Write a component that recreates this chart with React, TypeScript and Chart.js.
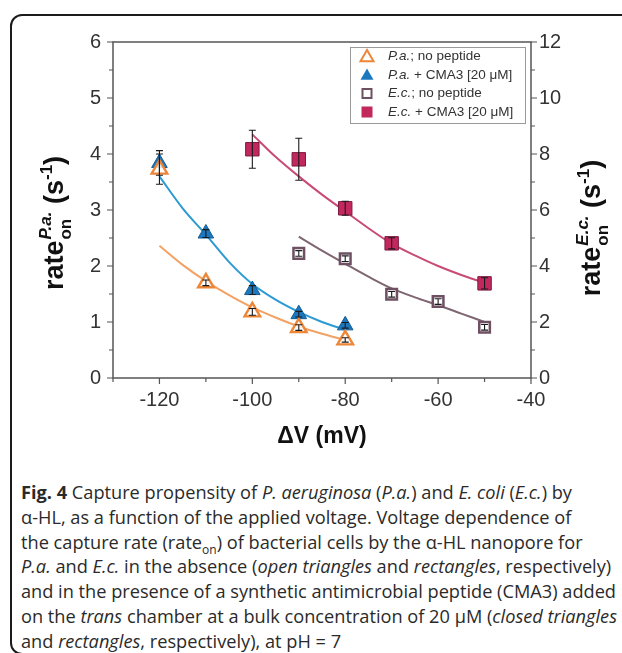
import { useEffect, useRef } from 'react';
import { Chart, registerables } from 'chart.js';

Chart.register(...registerables);

// ---------- data ----------
const voltagePa = [-120, -110, -100, -90, -80];
const paNoPeptide = [3.73, 1.7, 1.18, 0.9, 0.68];
const paNoPeptideErr = [0.27, 0.05, 0.06, 0.05, 0.04];
const paCMA3 = [3.84, 2.58, 1.57, 1.14, 0.94];
const paCMA3Err = [0.22, 0.07, 0.08, 0.05, 0.05];

const voltageEcNo = [-90, -80, -70, -60, -50];
const ecNoPeptide = [4.45, 4.26, 2.99, 2.73, 1.81];
const ecNoPeptideErr = [0.1, 0.1, 0.1, 0.1, 0.1];
const voltageEcCMA3 = [-100, -90, -80, -70, -50];
const ecCMA3 = [8.17, 7.81, 6.06, 4.81, 3.38];
const ecCMA3Err = [0.68, 0.75, 0.25, 0.2, 0.2];

// fitted curves
const fitVoltagePa = [-120, -115, -110, -105, -100, -95, -90, -85, -80];
const paNoPeptideFit = [2.36, 2.02, 1.73, 1.48, 1.26, 1.08, 0.92, 0.79, 0.68];
const paCMA3Fit = [3.6, 3.03, 2.56, 2.07, 1.68, 1.4, 1.18, 1.0, 0.86];
const fitVoltageEcNo = [-90, -85, -80, -75, -70, -65, -60, -55, -50];
const ecNoPeptideFit = [5.05, 4.55, 4.08, 3.62, 3.2, 2.88, 2.6, 2.3, 2.0];
const fitVoltageEcCMA3 = [-100, -95, -90, -85, -80, -75, -70, -65, -60, -55, -50];
const ecCMA3Fit = [8.7, 7.9, 7.2, 6.55, 5.95, 5.35, 4.8, 4.38, 4.0, 3.68, 3.4];

const xTickValues = [-120, -100, -80, -60, -40];
const xMinorTicks = [-130, -110, -90, -70, -50];
const yLeftTicks = [0, 1, 2, 3, 4, 5, 6];
const yLeftMinor = [0.5, 1.5, 2.5, 3.5, 4.5, 5.5];
const yRightTicks = [0, 2, 4, 6, 8, 10, 12];
const yRightMinor = [1, 3, 5, 7, 9, 11];

const legendLabels = [
  ['P.a.', '; no peptide'],
  ['P.a.', ' + CMA3 [20 \u03bcM]'],
  ['E.c.', '; no peptide'],
  ['E.c.', ' + CMA3 [20 \u03bcM]'],
];

// ---------- styles ----------
const ORANGE = '#EE8637';
const ORANGE_LINE = '#F3A265';
const BLUE = '#1B78BF';
const BLUE_LINE = '#2C9AD3';
const RED = '#C2275E';
const RED_LINE = '#C84B76';
const BROWN = '#6E5062';
const BROWN_LINE = '#7E6672';
const AXIS = '#555';
const FONT = "'Liberation Sans', Arial, Helvetica, sans-serif";

const pts = (xs: number[], ys: number[]) => xs.map((x, i) => ({ x, y: ys[i] }));

function drawTriangle(ctx: CanvasRenderingContext2D, x: number, y: number, r: number) {
  ctx.beginPath();
  ctx.moveTo(x, y - r);
  ctx.lineTo(x + r * 0.866, y + r * 0.5);
  ctx.lineTo(x - r * 0.866, y + r * 0.5);
  ctx.closePath();
}

function drawTitle(
  ctx: CanvasRenderingContext2D,
  cx: number,
  cy: number,
  sup: string,
  main: number,
  small: number
) {
  ctx.save();
  ctx.translate(cx, cy);
  ctx.rotate(-Math.PI / 2);
  ctx.fillStyle = '#111';
  ctx.textBaseline = 'alphabetic';
  ctx.textAlign = 'left';
  const fMain = `bold ${main}px ${FONT}`;
  const fSmall = `bold ${small}px ${FONT}`;
  const fSmallIt = `italic bold ${small}px ${FONT}`;
  ctx.font = fMain;
  const w1 = ctx.measureText('rate').width;
  const w2 = ctx.measureText(' (s').width;
  const w3 = ctx.measureText(')').width;
  ctx.font = fSmall;
  const wSub = ctx.measureText('on').width;
  const wExp = ctx.measureText('-1').width;
  ctx.font = fSmallIt;
  const wSup = ctx.measureText(sup).width;
  const wMid = Math.max(wSub, wSup) + 1;
  const total = w1 + wMid + w2 + wExp + w3;
  let x = -total / 2;
  ctx.font = fMain;
  ctx.fillText('rate', x, 0);
  x += w1;
  ctx.font = fSmall;
  ctx.fillText('on', x + 1, main * 0.28);
  ctx.font = fSmallIt;
  ctx.fillText(sup, x + 1, -main * 0.45);
  x += wMid;
  ctx.font = fMain;
  ctx.fillText(' (s', x, 0);
  x += w2;
  ctx.font = fSmall;
  ctx.fillText('-1', x, -main * 0.42);
  x += wExp;
  ctx.font = fMain;
  ctx.fillText(')', x, 0);
  ctx.restore();
}

const errorSets: { ds: number; err: number[] }[] = [
  { ds: 0, err: paNoPeptideErr },
  { ds: 1, err: paCMA3Err },
  { ds: 2, err: ecNoPeptideErr },
  { ds: 3, err: ecCMA3Err },
];

const decorPlugin = {
  id: 'decor',
  beforeDatasetsDraw(chart: any) {
    const { ctx, chartArea: a, scales } = chart;
    const x = scales.x;
    const y = scales.y;
    const y2 = scales.y2;
    ctx.save();
    ctx.strokeStyle = AXIS;
    ctx.lineWidth = 1.5;
    ctx.beginPath();
    ctx.rect(a.left, a.top, a.right - a.left, a.bottom - a.top);
    ctx.stroke();
    ctx.lineWidth = 1.2;
    ctx.beginPath();
    xTickValues.forEach((v) => {
      const px = x.getPixelForValue(v);
      ctx.moveTo(px, a.bottom);
      ctx.lineTo(px, a.bottom + 6);
    });
    xMinorTicks.forEach((v) => {
      const px = x.getPixelForValue(v);
      ctx.moveTo(px, a.bottom);
      ctx.lineTo(px, a.bottom + 4);
    });
    yLeftTicks.forEach((v) => {
      const py = y.getPixelForValue(v);
      ctx.moveTo(a.left, py);
      ctx.lineTo(a.left - 6, py);
    });
    yLeftMinor.forEach((v) => {
      const py = y.getPixelForValue(v);
      ctx.moveTo(a.left, py);
      ctx.lineTo(a.left - 4, py);
    });
    yRightTicks.forEach((v) => {
      const py = y2.getPixelForValue(v);
      ctx.moveTo(a.right, py);
      ctx.lineTo(a.right + 6, py);
    });
    yRightMinor.forEach((v) => {
      const py = y2.getPixelForValue(v);
      ctx.moveTo(a.right, py);
      ctx.lineTo(a.right + 4, py);
    });
    ctx.stroke();
    ctx.restore();
  },
  afterDatasetsDraw(chart: any) {
    const { ctx } = chart;
    ctx.save();
    ctx.strokeStyle = '#1a1a1a';
    ctx.lineWidth = 1.1;
    errorSets.forEach(({ ds, err }) => {
      const meta = chart.getDatasetMeta(ds);
      const ys = chart.scales[meta.yAxisID];
      const data = chart.data.datasets[ds].data as { x: number; y: number }[];
      data.forEach((p, i) => {
        const px = chart.scales.x.getPixelForValue(p.x);
        const top = ys.getPixelForValue(p.y + err[i]);
        const bot = ys.getPixelForValue(p.y - err[i]);
        ctx.beginPath();
        ctx.moveTo(px, top);
        ctx.lineTo(px, bot);
        ctx.moveTo(px - 3.5, top);
        ctx.lineTo(px + 3.5, top);
        ctx.moveTo(px - 3.5, bot);
        ctx.lineTo(px + 3.5, bot);
        ctx.stroke();
      });
    });
    ctx.restore();
  },
  afterDraw(chart: any) {
    const { ctx, chartArea: a } = chart;
    // legend
    ctx.save();
    const lx = 350, ly = 47, lw = 175, lh = 76;
    ctx.fillStyle = '#fff';
    ctx.fillRect(lx, ly, lw, lh);
    ctx.strokeStyle = '#9a9a9a';
    ctx.lineWidth = 1;
    ctx.strokeRect(lx + 0.5, ly + 0.5, lw, lh);
    const rowY = [56.5, 75, 93.5, 112];
    const sx = 367;
    drawTriangle(ctx, sx, rowY[0] + 1, 7.5);
    ctx.fillStyle = '#fff';
    ctx.fill();
    ctx.strokeStyle = ORANGE;
    ctx.lineWidth = 2;
    ctx.stroke();
    drawTriangle(ctx, sx, rowY[1] + 1, 7.5);
    ctx.fillStyle = BLUE;
    ctx.fill();
    ctx.strokeStyle = BROWN;
    ctx.lineWidth = 2;
    ctx.strokeRect(sx - 4.5, rowY[2] - 4.5, 9, 9);
    ctx.fillStyle = RED;
    ctx.fillRect(sx - 5.5, rowY[3] - 5.5, 11, 11);
    ctx.fillStyle = '#333';
    ctx.textBaseline = 'middle';
    ctx.textAlign = 'left';
    legendLabels.forEach(([it, rest], i) => {
      let x = 388;
      ctx.font = `italic 13.5px ${FONT}`;
      ctx.fillText(it, x, rowY[i]);
      x += ctx.measureText(it).width;
      ctx.font = `13.5px ${FONT}`;
      ctx.fillText(rest, x, rowY[i]);
    });
    // x title
    ctx.fillStyle = '#111';
    ctx.font = `bold 23px ${FONT}`;
    ctx.textAlign = 'center';
    ctx.textBaseline = 'middle';
    ctx.fillText('\u0394V (mV)', (a.left + a.right) / 2, 437);
    ctx.restore();
    drawTitle(ctx, 63, 223, 'P.a.', 27, 17);
    drawTitle(ctx, 600, 228, 'E.c.', 27, 17);
  },
};

const tickFont = { family: FONT, size: 20 };

export default function App() {
  const ref = useRef<HTMLCanvasElement>(null);
  useEffect(() => {
    const chart = new Chart(ref.current!, {
      type: 'scatter',
      data: {
        datasets: [
          {
            label: 'P.a.; no peptide',
            data: pts(voltagePa, paNoPeptide),
            yAxisID: 'y',
            pointStyle: 'triangle',
            pointRadius: 9,
            backgroundColor: 'rgba(255,255,255,0.85)',
            borderColor: ORANGE,
            borderWidth: 2.4,
            order: 1,
          },
          {
            label: 'P.a. + CMA3 [20 \u03bcM]',
            data: pts(voltagePa, paCMA3),
            yAxisID: 'y',
            pointStyle: 'triangle',
            pointRadius: 9,
            backgroundColor: BLUE,
            borderColor: '#135c95',
            borderWidth: 1,
            order: 1,
          },
          {
            label: 'E.c.; no peptide',
            data: pts(voltageEcNo, ecNoPeptide),
            yAxisID: 'y2',
            pointStyle: 'rect',
            pointRadius: 7.5,
            backgroundColor: 'rgba(255,255,255,0.9)',
            borderColor: BROWN,
            borderWidth: 2.5,
            order: 1,
          },
          {
            label: 'E.c. + CMA3 [20 \u03bcM]',
            data: pts(voltageEcCMA3, ecCMA3),
            yAxisID: 'y2',
            pointStyle: 'rect',
            pointRadius: 9.5,
            backgroundColor: RED,
            borderColor: '#7d1a40',
            borderWidth: 1,
            order: 1,
          },
          {
            label: 'fit P.a. no peptide',
            data: pts(fitVoltagePa, paNoPeptideFit),
            yAxisID: 'y',
            showLine: true,
            pointRadius: 0,
            borderColor: ORANGE_LINE,
            borderWidth: 2,
            cubicInterpolationMode: 'monotone',
            order: 10,
          },
          {
            label: 'fit P.a. CMA3',
            data: pts(fitVoltagePa, paCMA3Fit),
            yAxisID: 'y',
            showLine: true,
            pointRadius: 0,
            borderColor: BLUE_LINE,
            borderWidth: 2,
            cubicInterpolationMode: 'monotone',
            order: 10,
          },
          {
            label: 'fit E.c. no peptide',
            data: pts(fitVoltageEcNo, ecNoPeptideFit),
            yAxisID: 'y2',
            showLine: true,
            pointRadius: 0,
            borderColor: BROWN_LINE,
            borderWidth: 2,
            cubicInterpolationMode: 'monotone',
            order: 10,
          },
          {
            label: 'fit E.c. CMA3',
            data: pts(fitVoltageEcCMA3, ecCMA3Fit),
            yAxisID: 'y2',
            showLine: true,
            pointRadius: 0,
            borderColor: RED_LINE,
            borderWidth: 2,
            cubicInterpolationMode: 'monotone',
            order: 10,
          },
        ],
      },
      options: {
        responsive: false,
        animation: false,
        devicePixelRatio: 1,
        layout: { padding: { top: 42, left: 0, right: 0, bottom: 0 } },
        plugins: { legend: { display: false }, tooltip: { enabled: false } },
        scales: {
          x: {
            type: 'linear',
            position: 'bottom',
            min: -130,
            max: -40,
            grid: { display: false, drawTicks: false },
            border: { display: false },
            afterBuildTicks: (s: any) => {
              s.ticks = xTickValues.map((v) => ({ value: v }));
            },
            afterFit: (s: any) => {
              s.height = 82;
            },
            ticks: { padding: 10, font: tickFont, color: '#333', maxRotation: 0, autoSkip: false },
          },
          y: {
            type: 'linear',
            position: 'left',
            min: 0,
            max: 6,
            grid: { display: false, drawTicks: false },
            border: { display: false },
            afterBuildTicks: (s: any) => {
              s.ticks = yLeftTicks.map((v) => ({ value: v }));
            },
            afterFit: (s: any) => {
              s.width = 113;
            },
            ticks: { padding: 12, font: tickFont, color: '#333' },
          },
          y2: {
            type: 'linear',
            position: 'right',
            min: 0,
            max: 12,
            grid: { display: false, drawTicks: false },
            border: { display: false },
            afterBuildTicks: (s: any) => {
              s.ticks = yRightTicks.map((v) => ({ value: v }));
            },
            afterFit: (s: any) => {
              s.width = 91;
            },
            ticks: { padding: 8, font: tickFont, color: '#333' },
          },
        },
      },
      plugins: [decorPlugin],
    } as any);
    return () => chart.destroy();
  }, []);

  const it = (t: string) => <i>{t}</i>;
  const lineStyle: any = { whiteSpace: 'nowrap', height: 24.8 };
  return (
    <div
      style={{
        position: 'fixed',
        left: 0,
        top: 0,
        width: 622,
        height: 653,
        overflow: 'hidden',
        background: '#fff',
      }}
    >
      <div
        style={{
          position: 'absolute',
          left: 10,
          top: 14,
          width: 700,
          height: 641,
          border: '2px solid #1b1b1b',
          borderRadius: 12,
          boxSizing: 'border-box',
        }}
      />
      <canvas ref={ref} width={622} height={460} style={{ position: 'absolute', left: 0, top: 0 }} />
      <div
        style={{
          position: 'absolute',
          left: 21,
          top: 480,
          fontFamily: "'Open Sans', 'Noto Sans', sans-serif",
          fontSize: 18.2,
          lineHeight: '24.8px',
          color: '#2a2a2a',
        }}
      >
        <div style={lineStyle}>
          <b>Fig. 4</b> Capture propensity of {it('P. aeruginosa')} ({it('P.a.')}) and {it('E. coli')} (
          {it('E.c.')}) by
        </div>
        <div style={lineStyle}>{'\u03b1'}-HL, as a function of the applied voltage. Voltage dependence of</div>
        <div style={lineStyle}>
          the capture rate (rate<sub style={{ fontSize: 12, lineHeight: 0 }}>on</sub>) of bacterial cells by the{' '}
          {'\u03b1'}-HL nanopore for
        </div>
        <div style={lineStyle}>
          {it('P.a.')} and {it('E.c.')} in the absence ({it('open triangles')} and {it('rectangles')}, respectively)
        </div>
        <div style={lineStyle}>and in the presence of a synthetic antimicrobial peptide (CMA3) added</div>
        <div style={lineStyle}>
          on the {it('trans')} chamber at a bulk concentration of 20 {'\u03bc'}M ({it('closed triangles')}
        </div>
        <div style={lineStyle}>
          and {it('rectangles')}, respectively), at pH = 7
        </div>
      </div>
    </div>
  );
}
